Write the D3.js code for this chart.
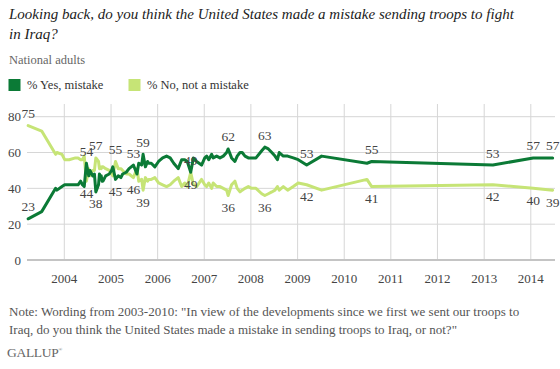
<!DOCTYPE html>
<html><head><meta charset="utf-8">
<script src="https://cdn.jsdelivr.net/npm/d3@7"></script>
<style>
html,body{margin:0;padding:0;background:#fff;}
</style></head>
<body><svg id="chart" width="560" height="369" font-family="Liberation Serif, Times New Roman, Noto Serif, DejaVu Serif, serif"></svg>
<script>
const dates = ["2003-03-24","2003-07-08","2003-10-25","2003-11-04","2003-12-14","2004-01-04","2004-02-08","2004-03-28","2004-04-18","2004-05-08","2004-05-22","2004-06-05","2004-06-22","2004-07-10","2004-07-20","2004-08-10","2004-08-24","2004-09-04","2004-09-25","2004-10-02","2004-10-10","2004-10-16","2004-10-23","2004-10-30","2004-11-20","2004-12-18","2005-01-05","2005-01-15","2005-02-05","2005-02-26","2005-03-19","2005-04-02","2005-04-30","2005-05-22","2005-06-25","2005-07-23","2005-08-06","2005-08-29","2005-09-09","2005-09-27","2005-10-14","2005-10-23","2005-11-12","2005-12-10","2006-01-08","2006-02-09","2006-03-12","2006-04-09","2006-05-07","2006-06-11","2006-07-08","2006-08-01","2006-08-21","2006-09-17","2006-10-08","2006-11-02","2006-12-11","2007-01-05","2007-01-20","2007-02-05","2007-02-28","2007-03-12","2007-04-08","2007-05-04","2007-05-30","2007-06-25","2007-07-07","2007-08-03","2007-08-29","2007-09-16","2007-10-08","2007-10-25","2007-11-16","2007-12-12","2008-01-07","2008-02-10","2008-03-26","2008-04-19","2008-05-17","2008-06-13","2008-07-08","2008-07-27","2008-08-10","2008-09-11","2008-10-15","2008-11-28","2009-01-06","2009-03-13","2009-07-08","2010-06-28","2010-08-04","2013-03-10","2014-01-20","2014-06-21"];
const yesMistake = [23,27,40,39,41,42,42,42,42,44,42,41,54,47,50,47,48,38,42,48,47,47,44,44,47,48,50,52,45,47,46,48,49,51,53,48,54,53,59,52,55,54,54,52,55,57,58,57,54,51,56,56,55,49,57,55,53,57,58,56,59,57,58,57,58,60,62,57,55,58,60,60,58,57,57,57,61,63,62,60,58,56,60,58,58,57,56,53,58,54,55,53,57,57];
const noMistake = [75,72,59,60,59,56,56,57,57,56,56,58,44,51,47,50,50,57,55,51,52,51,52,52,51,50,48,47,55,51,51,50,48,48,46,51,44,45,39,46,44,45,45,46,43,42,41,42,44,46,41,43,41,49,42,41,45,42,41,43,40,43,41,41,40,39,36,42,44,40,38,39,40,41,40,40,37,36,37,38,39,41,39,41,39,41,43,42,39,45,41,42,40,39];
const labelDates = ["2003-03-24","2004-06-22","2004-09-04","2005-02-05","2005-06-25","2005-09-09","2006-09-17","2007-07-07","2008-04-19","2009-03-13","2010-08-04","2013-03-10","2014-01-20","2014-06-21"];
const yearTicks = [2004,2005,2006,2007,2008,2009,2010,2011,2012,2013,2014];
const yTicks = [0,20,40,60,80];
const seriesNames = ["% Yes, mistake","% No, not a mistake"];
const colors = ["#0b7a36","#c6e476"];

const parse = d3.timeParse("%Y-%m-%d");
const svg = d3.select("#chart");

const x = d3.scaleTime().domain([new Date(2004,0,1), new Date(2014,0,1)]).range([64.3, 530.8]);
const y = d3.scaleLinear().domain([0,80]).range([260, 116.7]);
const plotLeft = 27, plotRight = 555, gridTop = 104;

// Title
const title = svg.append("g").attr("font-style","italic").attr("fill","#222");
const t1 = title.append("text").attr("x",9).attr("y",19).attr("font-size",15)
  .text("Looking back, do you think the United States made a mistake sending troops to fight");
title.append("text").attr("x",9).attr("y",39).attr("font-size",15).text("in Iraq?");
svg.append("text").attr("x",9).attr("y",64).attr("font-size",12.5).attr("fill","#666").text("National adults");

// Legend
const legX = [8.5, 128.5];
seriesNames.forEach((n,i)=>{
  svg.append("rect").attr("x",legX[i]).attr("y",79).attr("width",12).attr("height",12).attr("fill",colors[i]);
  svg.append("text").attr("x",legX[i]+18.5).attr("y",89).attr("font-size",12.5).attr("fill","#333").text(n);
});

// Grid
const grid = svg.append("g");
grid.selectAll("line.h").data(yTicks.filter(v=>v>0)).join("line")
  .attr("x1",plotLeft).attr("x2",plotRight).attr("y1",d=>y(d)).attr("y2",d=>y(d))
  .attr("stroke","#d6d6d6").attr("stroke-width",1);
grid.selectAll("line.v").data(yearTicks).join("line")
  .attr("x1",d=>x(new Date(d,0,1))).attr("x2",d=>x(new Date(d,0,1)))
  .attr("y1",gridTop).attr("y2",y(0))
  .attr("stroke","#d6d6d6").attr("stroke-width",1);
grid.append("line").attr("x1",plotLeft).attr("x2",plotRight).attr("y1",y(0)).attr("y2",y(0))
  .attr("stroke","#c4c4c4").attr("stroke-width",2);

// Axes labels
svg.append("g").selectAll("text").data(yTicks).join("text")
  .attr("x",21).attr("y",d=>y(d)+4.5).attr("text-anchor","end").attr("font-size",13).attr("fill","#444")
  .text(d=>d);
svg.append("g").selectAll("text").data(yearTicks).join("text")
  .attr("x",d=>x(new Date(d,0,1))).attr("y",283).attr("text-anchor","middle").attr("font-size",13).attr("fill","#444")
  .text(d=>d);

// Lines
const rows = dates.map((d,i)=>({date:parse(d), v:[yesMistake[i], noMistake[i]]}));
const line = k => d3.line().x(d=>x(d.date)).y(d=>y(d.v[k])).curve(d3.curveLinear)(rows);
[1,0].forEach(k=>{
  svg.append("path").attr("d",line(k)).attr("fill","none").attr("stroke",colors[k])
    .attr("stroke-width",3).attr("stroke-linejoin","round").attr("stroke-linecap","round");
});

// Value labels
const lg = svg.append("g").attr("font-size",13.5).attr("fill","#444").attr("text-anchor","middle");
labelDates.forEach((ld,j)=>{
  const i = dates.indexOf(ld);
  const r = rows[i];
  const hi = r.v[0] >= r.v[1] ? 0 : 1;
  [0,1].forEach(k=>{
    const above = (k===hi) || j===0;
    const yy = y(r.v[k]) + (above ? -12 : 12) + 4.5;
    lg.append("text").attr("x",x(r.date)).attr("y",yy).text(r.v[k]);
  });
});

// Note
const note = svg.append("g").attr("font-size",13).attr("fill","#555");
note.append("text").attr("x",9).attr("y",316)
  .text("Note: Wording from 2003-2010: \"In view of the developments since we first we sent our troops to");
note.append("text").attr("x",9).attr("y",334)
  .text("Iraq, do you think the United States made a mistake in sending troops to Iraq, or not?\"");

// Brand
const brand = svg.append("text").attr("x",7).attr("y",357).attr("font-size",13.5).attr("fill","#666").attr("letter-spacing",-0.3);
brand.append("tspan").text("GALLUP");
brand.append("tspan").attr("font-size",5).attr("dy",-6).text("®");
</script>
</body></html>
